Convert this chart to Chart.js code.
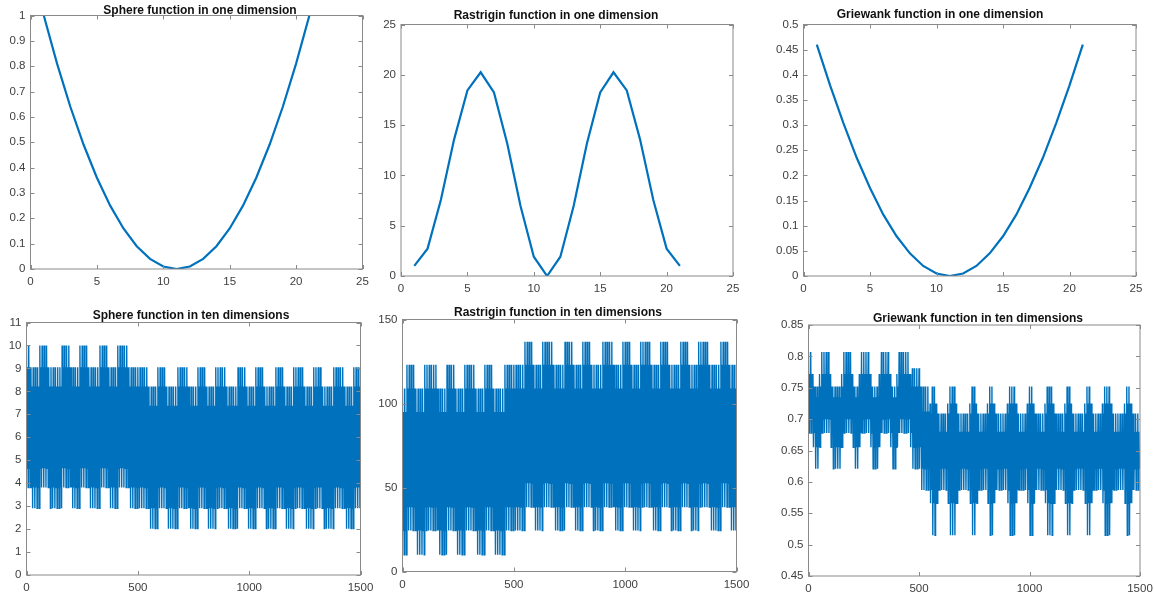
<!DOCTYPE html>
<html>
<head>
<meta charset="utf-8">
<title>Benchmark functions</title>
<script src="https://cdn.jsdelivr.net/npm/chart.js@4.4.1/dist/chart.umd.min.js"></script>
<style>
  html, body { margin: 0; padding: 0; background: #fff; }
  #page { position: relative; width: 1154px; height: 597px; overflow: hidden; }
  #page canvas { position: absolute; left: 0; top: 0; }
</style>
</head>
<body>
<div id="page">
  <canvas id="sphere-1d" width="1154" height="597"></canvas>
  <canvas id="rastrigin-1d" width="1154" height="597"></canvas>
  <canvas id="griewank-1d" width="1154" height="597"></canvas>
  <canvas id="sphere-10d" width="1154" height="597"></canvas>
  <canvas id="rastrigin-10d" width="1154" height="597"></canvas>
  <canvas id="griewank-10d" width="1154" height="597"></canvas>
</div>
<script>
// ============================================================
// DATA — one dimension (21 samples)
// ============================================================
const X_1D = [1, 2, 3, 4, 5, 6, 7, 8, 9, 10, 11, 12, 13, 14, 15, 16, 17, 18, 19, 20, 21];
const SPHERE_1D = [1, 0.81, 0.64, 0.49, 0.36, 0.25, 0.16, 0.09, 0.04, 0.01, 0,
  0.01, 0.04, 0.09, 0.16, 0.25, 0.36, 0.49, 0.64, 0.81, 1];
const RASTRIGIN_1D = [1, 2.72, 7.55, 13.58, 18.45, 20.25, 18.25, 13.18, 6.95, 1.92, 0,
  1.92, 6.95, 13.18, 18.25, 20.25, 18.45, 13.58, 7.55, 2.72, 1];
const GRIEWANK_1D = [0.46, 0.379, 0.304, 0.235, 0.175, 0.122, 0.079, 0.045, 0.02, 0.005, 0,
  0.005, 0.02, 0.045, 0.079, 0.122, 0.175, 0.235, 0.304, 0.379, 0.46];

// ============================================================
// DATA — ten dimensions (read as 10-sample bins, one state per bin)
// each bin swings: high[0], low[0], high[1], low[1]
// ============================================================
const BIN_WIDTH = 10;

// shared phase of the slow modulation (sphere + rastrigin)
const PHASE_10D = [
  'aabbbbaaaa', 'bbbbbbaaaa', 'bbbbaaaabb', 'bbbaaaabbb', 'baaaaabbbb',
  'bbbbbccccb', 'bbbcccccbb', 'bbbccccbbb', 'bccccbbbbb', 'cccccbbbbc',
  'cccbbbbccc', 'ccbbbbcccc', 'bbbbbccccb', 'bbbcccccbb', 'bbbccccbbb',
].join('');

// griewank has stepped shoulders around each cluster
const GRIEWANK_PHASE_10D = [
  'aasbbsaaaa', 'sbbbbsaaaa', 'sbbsaaaasb', 'bbsaaaasbb', 'saaaaasuuu',
  'uttttecced', 'dddecccedd', 'dddecceddd', 'decceddddd', 'ecccedddde',
  'cceddddecc', 'ceddddecce', 'dddddecced', 'dddecccedd', 'dddecceddd',
].join('');

const SPHERE_10D_HIGH = { a: [10.0, 9.05], b: [9.05, 8.21], c: [8.21, 7.37] };
const SPHERE_10D_LOW  = { a: [4.65, 3.81], b: [3.81, 2.91], c: [2.91, 2.02] };

const RASTRIGIN_10D_HIGH = { a: [109, 95], b: [123, 109], c: [136.7, 123] };
const RASTRIGIN_10D_LOW  = { a: [24.4, 9.9], b: [38.3, 24.4], c: [52.5, 38.3] };

const GRIEWANK_10D_HIGH = {
  a: [0.807, 0.772], s: [0.772, 0.752], b: [0.752, 0.735], u: [0.781, 0.752],
  t: [0.752, 0.712], c: [0.752, 0.725], e: [0.725, 0.709], d: [0.709, 0.68],
};
const GRIEWANK_10D_LOW = {
  a: [0.678, 0.70], s: [0.655, 0.678], b: [0.621, 0.655], u: [0.621, 0.655],
  t: [0.587, 0.621], c: [0.515, 0.566], e: [0.566, 0.587], d: [0.587, 0.621],
};

// ---- TICKS ----
const X_TICKS_1D = [0, 5, 10, 15, 20, 25];
const X_TICKS_10D = [0, 500, 1000, 1500];
const Y_TICKS_SPHERE_1D = [0, 0.1, 0.2, 0.3, 0.4, 0.5, 0.6, 0.7, 0.8, 0.9, 1];
const Y_TICKS_RASTRIGIN_1D = [0, 5, 10, 15, 20, 25];
const Y_TICKS_GRIEWANK_1D = [0, 0.05, 0.1, 0.15, 0.2, 0.25, 0.3, 0.35, 0.4, 0.45, 0.5];
const Y_TICKS_SPHERE_10D = [0, 1, 2, 3, 4, 5, 6, 7, 8, 9, 10, 11];
const Y_TICKS_RASTRIGIN_10D = [0, 50, 100, 150];
const Y_TICKS_GRIEWANK_10D = [0.45, 0.5, 0.55, 0.6, 0.65, 0.7, 0.75, 0.8, 0.85];

// ============================================================
// STYLE
// ============================================================
const LINE_BLUE = '#0072BD';
const AXIS_GREY = '#8a8a8a';
const LABEL_GREY = '#404040';
const FONT_FAMILY = '"Liberation Sans", Arial, Helvetica, sans-serif';

// ============================================================
// helpers
// ============================================================
function bandPoints(phase, high, low) {
  const pts = [];
  for (let i = 0; i < phase.length; i++) {
    const s = phase[i];
    const x0 = i * BIN_WIDTH;
    pts.push({ x: x0, y: high[s][0] });
    pts.push({ x: x0 + BIN_WIDTH / 4, y: low[s][0] });
    pts.push({ x: x0 + BIN_WIDTH / 2, y: high[s][1] });
    pts.push({ x: x0 + 3 * BIN_WIDTH / 4, y: low[s][1] });
  }
  return pts;
}

function zip(xs, ys) {
  return xs.map((x, i) => ({ x, y: ys[i] }));
}

function fmt(v) {
  return String(Number(v.toFixed(3)));
}

// box, inward ticks and title, matlab style
const matlabAxesPlugin = {
  id: 'matlabAxes',
  afterDraw(chart, args, opts) {
    const { ctx, chartArea: a, scales } = chart;
    const tl = 4;
    ctx.save();
    ctx.strokeStyle = AXIS_GREY;
    ctx.lineWidth = 1;
    ctx.strokeRect(a.left, a.top, a.right - a.left, a.bottom - a.top);
    ctx.beginPath();
    scales.x.ticks.forEach(t => {
      const px = Math.round(scales.x.getPixelForValue(t.value)) + 0.5;
      ctx.moveTo(px, a.bottom); ctx.lineTo(px, a.bottom - tl);
      ctx.moveTo(px, a.top); ctx.lineTo(px, a.top + tl);
    });
    scales.y.ticks.forEach(t => {
      const py = Math.round(scales.y.getPixelForValue(t.value)) + 0.5;
      ctx.moveTo(a.left, py); ctx.lineTo(a.left + tl, py);
      ctx.moveTo(a.right, py); ctx.lineTo(a.right - tl, py);
    });
    ctx.stroke();
    if (opts.title) {
      ctx.font = 'bold 12px ' + FONT_FAMILY;
      ctx.fillStyle = '#111';
      ctx.textAlign = 'center';
      ctx.textBaseline = 'middle';
      ctx.fillText(opts.title, opts.titleX, opts.titleY);
    }
    ctx.restore();
  },
};

function makePanel(id, cfg) {
  const canvas = document.getElementById(id);
  const W = canvas.width, H = canvas.height;
  const tickFont = { family: FONT_FAMILY, size: 11.5 };

  return new Chart(canvas.getContext('2d'), {
    type: 'line',
    data: {
      datasets: [{
        data: cfg.points,
        borderColor: LINE_BLUE,
        borderWidth: cfg.lineWidth,
        pointRadius: 0,
        tension: 0,
        fill: false,
      }],
    },
    options: {
      responsive: false,
      animation: false,
      events: [],
      layout: {
        padding: { left: 0, top: cfg.area.top, right: W - cfg.area.right, bottom: 0 },
      },
      plugins: {
        legend: { display: false },
        tooltip: { enabled: false },
        matlabAxes: { title: cfg.title, titleX: cfg.titleX, titleY: cfg.titleY },
      },
      scales: {
        x: {
          type: 'linear',
          min: cfg.xTicks[0],
          max: cfg.xTicks[cfg.xTicks.length - 1],
          grid: { display: false, drawTicks: false },
          border: { display: false },
          afterBuildTicks(s) { s.ticks = cfg.xTicks.map(v => ({ value: v })); },
          afterFit(s) { s.height = H - cfg.area.bottom; s.paddingLeft = 0; s.paddingRight = 0; },
          ticks: {
            font: tickFont, color: LABEL_GREY, padding: 6,
            maxRotation: 0, autoSkip: false,
            callback: v => fmt(v),
          },
        },
        y: {
          type: 'linear',
          min: cfg.yTicks[0],
          max: cfg.yTicks[cfg.yTicks.length - 1],
          grid: { display: false, drawTicks: false },
          border: { display: false },
          afterBuildTicks(s) { s.ticks = cfg.yTicks.map(v => ({ value: v })); },
          afterFit(s) { s.width = cfg.area.left; s.paddingTop = 0; s.paddingBottom = 0; },
          ticks: {
            font: tickFont, color: LABEL_GREY, padding: 5,
            autoSkip: false,
            callback: v => fmt(v),
          },
        },
      },
    },
    plugins: [matlabAxesPlugin],
  });
}

// ============================================================
// PANELS
// ============================================================
makePanel('sphere-1d', {
  title: 'Sphere function in one dimension', titleX: 200, titleY: 10.5,
  area: { left: 30.5, top: 15.5, right: 362.5, bottom: 269 },
  points: zip(X_1D, SPHERE_1D), lineWidth: 2.2,
  xTicks: X_TICKS_1D, yTicks: Y_TICKS_SPHERE_1D,
});

makePanel('rastrigin-1d', {
  title: 'Rastrigin function in one dimension', titleX: 556, titleY: 16,
  area: { left: 401, top: 24.5, right: 733, bottom: 276 },
  points: zip(X_1D, RASTRIGIN_1D), lineWidth: 2.2,
  xTicks: X_TICKS_1D, yTicks: Y_TICKS_RASTRIGIN_1D,
});

makePanel('griewank-1d', {
  title: 'Griewank function in one dimension', titleX: 940, titleY: 15,
  area: { left: 803.5, top: 24.5, right: 1136, bottom: 276 },
  points: zip(X_1D, GRIEWANK_1D), lineWidth: 2.2,
  xTicks: X_TICKS_1D, yTicks: Y_TICKS_GRIEWANK_1D,
});

makePanel('sphere-10d', {
  title: 'Sphere function in ten dimensions', titleX: 191, titleY: 315.5,
  area: { left: 26.5, top: 322.5, right: 360.5, bottom: 575 },
  points: bandPoints(PHASE_10D, SPHERE_10D_HIGH, SPHERE_10D_LOW), lineWidth: 1.4,
  xTicks: X_TICKS_10D, yTicks: Y_TICKS_SPHERE_10D,
});

makePanel('rastrigin-10d', {
  title: 'Rastrigin function in ten dimensions', titleX: 558, titleY: 312.5,
  area: { left: 402.5, top: 319.5, right: 736.5, bottom: 571.5 },
  points: bandPoints(PHASE_10D, RASTRIGIN_10D_HIGH, RASTRIGIN_10D_LOW), lineWidth: 1.4,
  xTicks: X_TICKS_10D, yTicks: Y_TICKS_RASTRIGIN_10D,
});

makePanel('griewank-10d', {
  title: 'Griewank function in ten dimensions', titleX: 978, titleY: 318.5,
  area: { left: 808.5, top: 325, right: 1140, bottom: 576 },
  points: bandPoints(GRIEWANK_PHASE_10D, GRIEWANK_10D_HIGH, GRIEWANK_10D_LOW), lineWidth: 1.4,
  xTicks: X_TICKS_10D, yTicks: Y_TICKS_GRIEWANK_10D,
});
</script>
</body>
</html>
